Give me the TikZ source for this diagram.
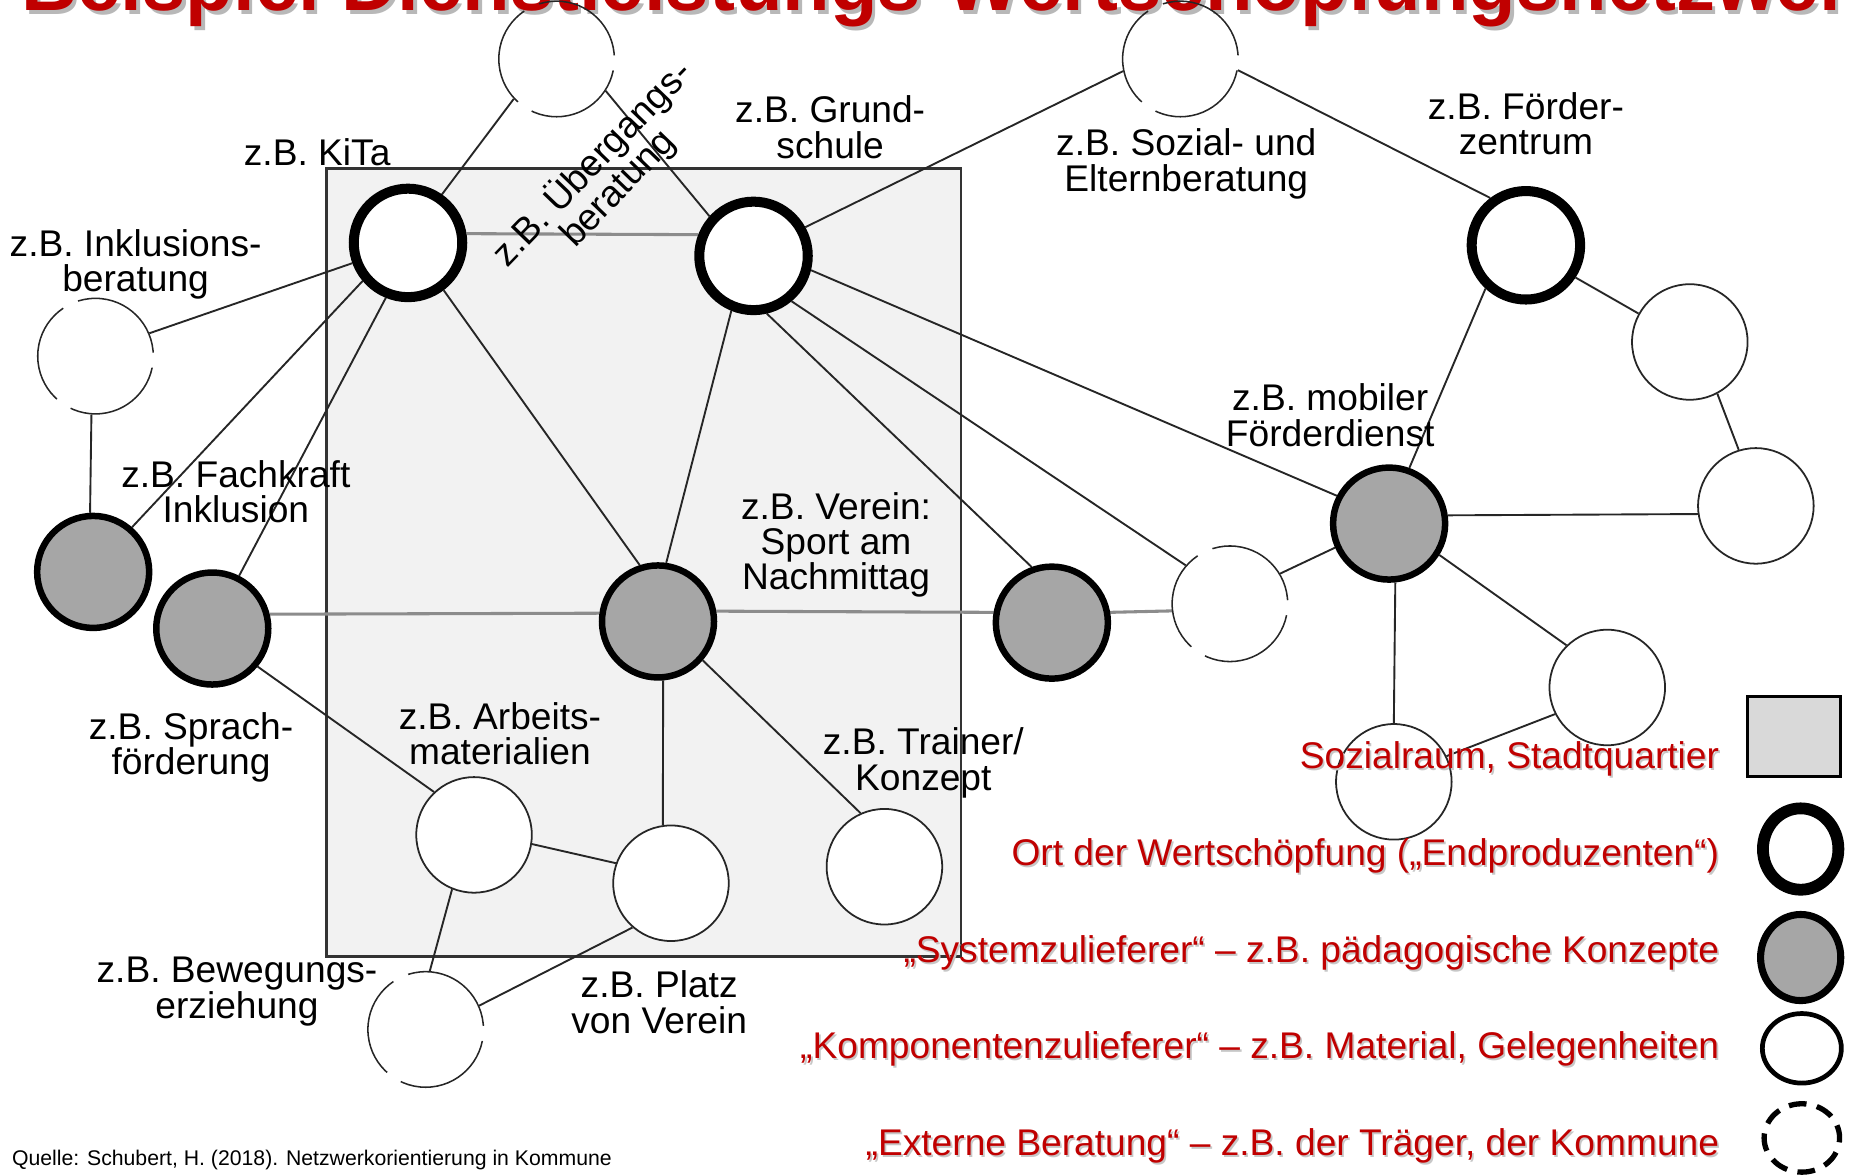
\documentclass[tikz,border=0pt]{standalone}
\usepackage{fontspec}
\setmainfont{Liberation Sans}
\usetikzlibrary{shapes.geometric}
\pgfdeclarelayer{background}
\pgfsetlayers{background,main}
\definecolor{titlered}{HTML}{C00000}
\definecolor{nodegray}{HTML}{A6A6A6}
\definecolor{roomgray}{HTML}{F2F2F2}
\definecolor{legendgray}{HTML}{D9D9D9}
\begin{document}
\begin{tikzpicture}[x=1pt,y=-1pt,
  endprod/.style={circle,draw=black,line width=8.5pt,fill=white,minimum size=92pt,inner sep=0pt},
  syssup/.style={circle,draw=black,line width=5.5pt,fill=nodegray,minimum size=95pt,inner sep=0pt},
  compsup/.style={circle,draw=black!85,line width=1.5pt,fill=white,minimum size=98pt,inner sep=0pt},
  extadv/.style={circle,draw=black!85,line width=1.3pt,dash pattern=on 89pt off 14pt,dash phase=100pt,minimum size=98pt,inner sep=0pt},
  link/.style={draw=black!85,line width=1.6pt},
  glink/.style={draw=black!45,line width=2.6pt},
  lbl/.style={font=\fontsize{31.5}{30}\selectfont,align=center,inner sep=0pt},
  legtxt/.style={font=\fontsize{31.5}{30}\selectfont,text=titlered,anchor=base east,inner sep=0pt},
  legshadow/.style={font=\fontsize{31.5}{30}\selectfont,text=black!22,anchor=base east,inner sep=0pt},
  titletxt/.style={font=\fontsize{66}{70}\selectfont\bfseries,anchor=base west,inner sep=0pt},
]
\useasboundingbox (0,0) rectangle (1568,996);
\clip (0,0) rectangle (1568,996);

% heading (only its lower edge lies inside the frame)
\node[titletxt,text=black!28] (titleshadow) at (21,12) {Beispiel Dienstleistungs-Wertschöpfungsnetzwerk};
\node[titletxt,text=titlered] (title) at (18,8.5) {Beispiel Dienstleistungs-Wertschöpfungsnetzwerk};

% actors of the network
\node[extadv] (adv1) at (472,50) {};
\node[extadv] (adv2) at (1001,50) {};
\node[endprod] (kita) at (346,206) {};
\node[endprod] (grund) at (639,217) {};
\node[endprod] (foerderz) at (1294,208) {};
\node[extadv] (inkl) at (81,302) {};
\node[syssup] (fach) at (79,485) {};
\node[syssup] (sprach) at (180,533) {};
\node[syssup] (verein) at (558,527) {};
\node[syssup] (sys2) at (892,528) {};
\node[extadv] (adv3) at (1043,512) {};
\node[syssup] (mobil) at (1178,444) {};
\node[compsup] (w1) at (1433,290) {};
\node[compsup] (w2) at (1489,429) {};
\node[compsup] (w3) at (1363,583) {};
\node[compsup] (w4) at (1182,663) {};
\node[compsup] (arbeit) at (402,708) {};
\node[compsup] (platz) at (569,749) {};
\node[compsup] (trainer) at (750,735) {};
\node[extadv] (beweg) at (361,873) {};

\begin{pgfonlayer}{background}
  % social space / neighbourhood
  \node[draw=black!80,line width=2pt,fill=roomgray,minimum width=538pt,minimum height=668pt,inner sep=0pt] (room) at (546,477) {};
  % ties
  \draw[link] (adv1.223) -- (kita.55);
  \draw[link] (adv1.-33) -- (grund.138);
  \draw[glink] (kita.9) -- (grund.159);
  \draw[link] (kita.200) -- (inkl.23);
  \draw[link] (kita.220) -- (fach.49);
  \draw[link] (kita.248) -- (sprach.63);
  \draw[link] (kita.-53) -- (verein.108);
  \draw[link] (grund.29) -- (adv2.192);
  \draw[link] (grund.248) -- (verein.82);
  \draw[link] (grund.-77) -- (sys2.110);
  \draw[link] (grund.-50) -- (adv3.139);
  \draw[link] (grund.-14) -- (mobil.152);
  \draw[link] (adv2.-11) -- (foerderz.127);
  \draw[link] (foerderz.-33) -- (w1.151);
  \draw[link] (foerderz.227) -- (mobil.70);
  \draw[link] (w1.-62) -- (w2.107);
  \draw[link] (mobil.8) -- (w2.188);
  \draw[link] (mobil.204) -- (adv3.31);
  \draw[link] (mobil.-84) -- (w4.90);
  \draw[link] (mobil.-32) -- (w3.134);
  \draw[link] (w3.207) -- (w4.26);
  \draw[link] (inkl.266) -- (fach.93);
  \draw[glink] (sprach.14) -- (verein.172);
  \draw[glink] (verein.10) -- (sys2.170);
  \draw[glink] (sys2.10) -- (adv3.187);
  \draw[link] (sprach.-40) -- (arbeit.133);
  \draw[link] (verein.-85) -- (platz.98);
  \draw[link] (verein.-41) -- (trainer.114);
  \draw[link] (arbeit.-9) -- (platz.160);
  \draw[link] (arbeit.248) -- (beweg.86);
  \draw[link] (platz.229) -- (beweg.24);
\end{pgfonlayer}

% labels
\node[lbl] (l-kita) at (269,129) {z.B. KiTa};
\node[lbl,rotate=46] (l-ueber) at (513,149) {z.B. Übergangs-\\beratung};
\node[lbl] (l-grund) at (704,108) {z.B. Grund-\\schule};
\node[lbl] (l-sozial) at (1006,139) {z.B. Sozial- und\\Elternberatung};
\node[lbl] (l-foerderz) at (1294,105) {z.B. Förder-\\zentrum};
\node[lbl] (l-inkl) at (115,224) {z.B. Inklusions-\\beratung};
\node[lbl] (l-fach) at (200,417) {z.B. Fachkraft\\Inklusion};
\node[lbl] (l-mobil) at (1128,352) {z.B. mobiler\\Förderdienst};
\node[lbl] (l-verein) at (709,462) {z.B. Verein:\\Sport am\\Nachmittag};
\node[lbl] (l-sprach) at (162,634) {z.B. Sprach-\\förderung};
\node[lbl] (l-arbeit) at (424,622) {z.B. Arbeits-\\materialien};
\node[lbl] (l-trainer) at (783,647) {z.B. Trainer/\\Konzept};
\node[lbl] (l-beweg) at (201,841) {z.B. Bewegungs-\\erziehung};
\node[lbl] (l-platz) at (559,850) {z.B. Platz\\von Verein};

% source
\node[anchor=base west,inner sep=0pt,font=\fontsize{18}{20}\selectfont] (source) at (10,988) {Quelle: Schubert, H. (2018). Netzwerkorientierung in Kommune};

% key
\node[legshadow] (s-room) at (1459.5,653.5) {Sozialraum, Stadtquartier};
\node[legtxt] (t-room) at (1458,652) {Sozialraum, Stadtquartier};
\node[legshadow] (s-end) at (1459.5,735.5) {Ort der Wertschöpfung („Endproduzenten“)};
\node[legtxt] (t-end) at (1458,734) {Ort der Wertschöpfung („Endproduzenten“)};
\node[legshadow] (s-sys) at (1459.5,817.5) {„Systemzulieferer“ – z.B. pädagogische Konzepte};
\node[legtxt] (t-sys) at (1458,816) {„Systemzulieferer“ – z.B. pädagogische Konzepte};
\node[legshadow] (s-comp) at (1459.5,899.5) {„Komponentenzulieferer“ – z.B. Material, Gelegenheiten};
\node[legtxt] (t-comp) at (1458,898) {„Komponentenzulieferer“ – z.B. Material, Gelegenheiten};
\node[legshadow] (s-ext) at (1459.5,981.5) {„Externe Beratung“ – z.B. der Träger, der Kommune};
\node[legtxt] (t-ext) at (1458,980) {„Externe Beratung“ – z.B. der Träger, der Kommune};

\node[draw=black,line width=2.5pt,fill=legendgray,minimum width=78.5pt,minimum height=68.5pt,inner sep=0pt] (k-room) at (1521.5,624.5) {};
\node[ellipse,draw=black,line width=10pt,fill=white,minimum width=64pt,minimum height=69pt,inner sep=0pt] (k-end) at (1527,720) {};
\node[ellipse,draw=black,line width=6pt,fill=nodegray,minimum width=68pt,minimum height=73pt,inner sep=0pt] (k-sys) at (1527,812) {};
\node[ellipse,draw=black,line width=4pt,fill=white,minimum width=67pt,minimum height=59pt,inner sep=0pt] (k-comp) at (1528,889) {};
\node[ellipse,draw=black,line width=4.5pt,dash pattern=on 15pt off 9pt,dash phase=4pt,minimum width=64pt,minimum height=58pt,inner sep=0pt] (k-ext) at (1528,965) {};
\end{tikzpicture}
\end{document}
